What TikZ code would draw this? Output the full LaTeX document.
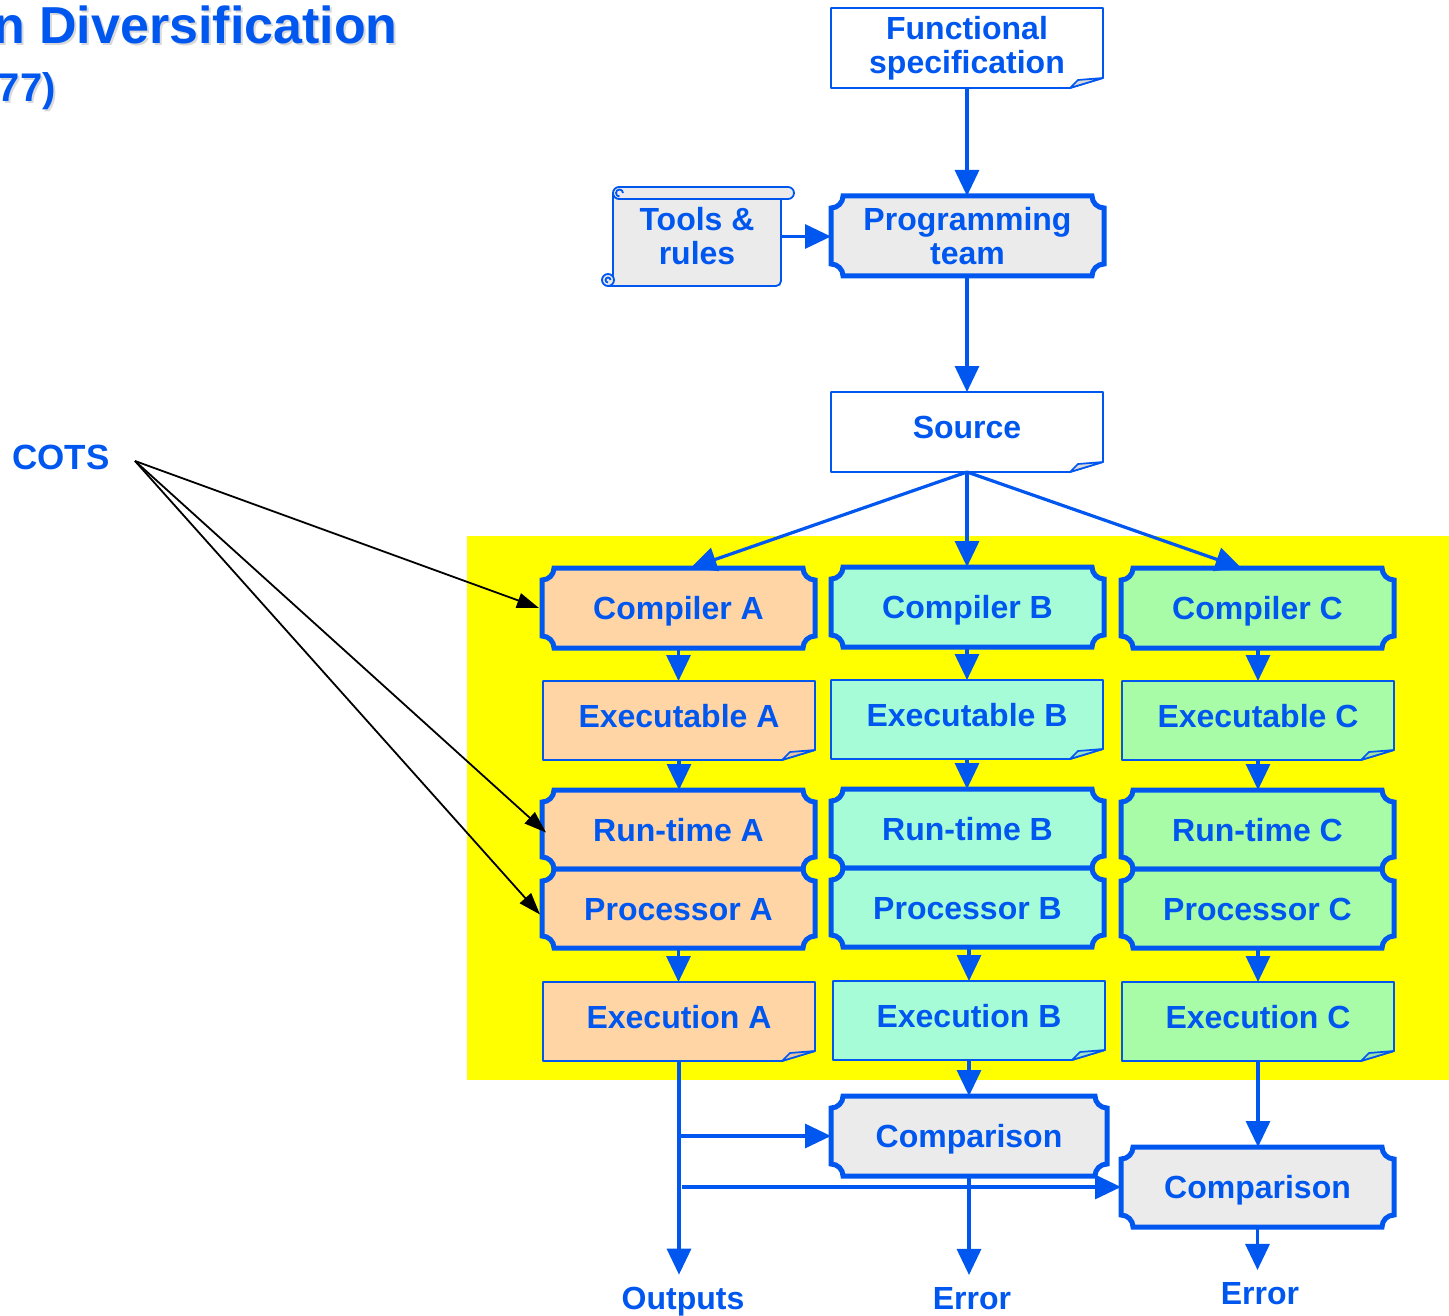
\documentclass[tikz,border=0pt]{standalone}
\usepackage{fontspec}
\setmainfont{Liberation Sans}
\usetikzlibrary{arrows.meta,calc}

\definecolor{ink}{RGB}{0,87,240}
\definecolor{peach}{RGB}{255,213,166}
\definecolor{mint}{RGB}{166,252,214}
\definecolor{leaf}{RGB}{168,252,168}
\definecolor{paper}{RGB}{235,235,235}
\definecolor{band}{RGB}{255,255,0}

\pgfdeclarelayer{back}
\pgfdeclarelayer{shapes}
\pgfsetlayers{back,shapes,main}

\newcommand\notchr{12pt}
\newcommand\boxfont{\fontsize{32}{34}\selectfont\bfseries}

% box with concave quarter-circle corners
\newcommand\procshape[2]{%
  \begin{pgfonlayer}{shapes}
  \draw[procline,fill=#2] let \p1=(#1.south west), \p2=(#1.north east) in
    ({\x1+\notchr},\y1) -- ({\x2-\notchr},\y1)
    arc[start angle=180,end angle=90,radius=\notchr] -- (\x2,{\y2-\notchr})
    arc[start angle=270,end angle=180,radius=\notchr] -- ({\x1+\notchr},\y2)
    arc[start angle=0,end angle=-90,radius=\notchr] -- (\x1,{\y1+\notchr})
    arc[start angle=90,end angle=0,radius=\notchr] -- cycle;
  \end{pgfonlayer}}

% document sheet with a curled lower right corner
\newcommand\docshape[3]{%
  \begin{pgfonlayer}{shapes}
  \draw[docline,fill=#2] let \p1=(#1.south west), \p2=(#1.north east) in
    (\x1,\y2) -- (\x2,\y2) -- (\x2,{\y1+10pt}) -- ({\x2-33pt},\y1) -- (\x1,\y1) -- cycle;
  \draw[docline,fill=#3] let \p1=(#1.south west), \p2=(#1.north east) in
    (\x2,{\y1+10pt}) -- ({\x2-33pt},\y1) -- ({\x2-25pt},{\y1+8pt}) -- cycle;
  \end{pgfonlayer}}

% paper scroll
\newcommand\scrollshape[2]{%
  \begin{pgfonlayer}{shapes}
  \fill[#2] (#1.south west) rectangle ($(#1.north east)+(0,-6)$);
  \draw[scrollline] ($(#1.north west)+(0,-6)$) -- ($(#1.south west)+(0,6)$);
  \draw[scrollline,rounded corners=5pt] ($(#1.south west)+(-5,0)$) -- (#1.south east) -- ($(#1.north east)+(0,-12)$);
  \draw[scrollline,fill=#2] ($(#1.south west)+(-5,6)$) circle[radius=6pt];
  \draw[scrollline] ($(#1.south west)+(-2.5,6)$) arc[start angle=0,end angle=270,radius=2.5pt];
  \draw[scrollline,fill=#2,rounded corners=6pt] (#1.north west) rectangle ($(#1.north east)+(13,-12)$);
  \draw[scrollline] ($(#1.north west)+(10,-6)$) arc[start angle=0,end angle=270,radius=3.5pt];
  \end{pgfonlayer}}

\tikzset{
  box/.style={inner sep=0pt, outer sep=0pt, text=ink, font=\boxfont, align=center},
  procbox/.style={box, minimum width=273pt, minimum height=80pt},
  docbox/.style={box, minimum width=272pt, minimum height=80pt},
  oneproc/.style={text height=23pt, text depth=0pt},
  onedoc/.style={text height=23pt, text depth=10pt},
  procline/.style={draw=ink, line width=5pt},
  docline/.style={draw=ink, line width=1.7pt, line join=round},
  scrollline/.style={draw=ink, line width=1.8pt},
  conn/.style={draw=ink, line width=3.2pt, -{Triangle[length=26pt,width=24pt]}},
  pointer/.style={draw=black, line width=1.8pt, -{Triangle[length=22pt,width=15pt]}},
  endlabel/.style={text=ink, font=\boxfont, inner sep=0pt, outer ysep=12pt, anchor=base},
  titletext/.style={inner sep=0pt, anchor=base east},
}

\begin{document}
\begin{tikzpicture}[x=1pt,y=1pt]
\useasboundingbox (0,0) rectangle (1449,-1316);

% heading
\node[titletext, text=black!15, font=\fontsize{52}{56}\selectfont\bfseries] (titleshade) at (400,-46) {n Diversification};
\node[titletext, text=ink, font=\fontsize{52}{56}\selectfont\bfseries] (title) at (398,-44) {n Diversification};
\node[titletext, text=black!15, font=\fontsize{40}{44}\selectfont\bfseries] (yearshade) at (58,-104) {77)};
\node[titletext, text=ink, font=\fontsize{40}{44}\selectfont\bfseries] (year) at (56,-102) {77)};

% yellow band behind the three channels
\begin{pgfonlayer}{back}
  \fill[band] (467,-536) rectangle (1449,-1080);
\end{pgfonlayer}

% design chain
\node[docbox] (spec) at (967,-48) {Functional\\specification};
\node[procbox] (team) at (967.5,-236) {Programming\\team};
\node[box, minimum width=168pt, minimum height=99pt] (tools) at (697,-236.5) {Tools \&\\rules};
\node[docbox, onedoc] (src) at (967,-432) {Source};

% channel A
\node[procbox, oneproc] (compA) at (678.5,-608) {Compiler A};
\node[docbox, onedoc, minimum height=79pt] (exeA) at (679,-720.5) {Executable A};
\node[procbox, oneproc, minimum height=79pt] (rtA) at (678.5,-829.5) {Run-time A};
\node[procbox, oneproc, minimum height=79pt] (prA) at (678.5,-908.5) {Processor A};
\node[docbox, onedoc, minimum height=79pt] (exnA) at (679,-1021.5) {Execution A};

% channel B
\node[procbox, oneproc] (compB) at (967.5,-607) {Compiler B};
\node[docbox, onedoc, minimum height=79pt] (exeB) at (967,-719.5) {Executable B};
\node[procbox, oneproc, minimum height=79pt] (rtB) at (967.5,-828.5) {Run-time B};
\node[procbox, oneproc, minimum height=79pt] (prB) at (967.5,-907.5) {Processor B};
\node[docbox, onedoc, minimum height=79pt] (exnB) at (969,-1020.5) {Execution B};

% channel C
\node[procbox, oneproc] (compC) at (1257.5,-608) {Compiler C};
\node[docbox, onedoc, minimum height=79pt] (exeC) at (1258,-720.5) {Executable C};
\node[procbox, oneproc, minimum height=79pt] (rtC) at (1257.5,-829.5) {Run-time C};
\node[procbox, oneproc, minimum height=79pt] (prC) at (1257.5,-908.5) {Processor C};
\node[docbox, onedoc, minimum height=79pt] (exnC) at (1258,-1021.5) {Execution C};

% comparators and results
\node[procbox, oneproc, minimum width=276pt] (cmp1) at (969,-1136) {Comparison};
\node[procbox, oneproc] (cmp2) at (1257.5,-1187) {Comparison};
\node[endlabel] (outs) at (683,-1309) {Outputs};
\node[endlabel] (err1) at (972,-1309) {Error};
\node[endlabel] (err2) at (1260,-1304) {Error};

% off-the-shelf components
\node[text=ink, font=\fontsize{35}{37}\selectfont\bfseries, inner sep=0pt] (cots) at (61,-457) {COTS};
\coordinate (cotsTip) at (135,-461);

% outlines
\docshape{spec}{white}{black!15}
\procshape{team}{paper}
\scrollshape{tools}{paper}
\docshape{src}{white}{black!15}
\procshape{compA}{peach}
\docshape{exeA}{peach}{peach!80!gray}
\procshape{rtA}{peach}
\procshape{prA}{peach}
\docshape{exnA}{peach}{peach!80!gray}
\procshape{compB}{mint}
\docshape{exeB}{mint}{mint!80!gray}
\procshape{rtB}{mint}
\procshape{prB}{mint}
\docshape{exnB}{mint}{mint!80!gray}
\procshape{compC}{leaf}
\docshape{exeC}{leaf}{leaf!80!gray}
\procshape{rtC}{leaf}
\procshape{prC}{leaf}
\docshape{exnC}{leaf}{leaf!80!gray}
\procshape{cmp1}{paper}
\procshape{cmp2}{paper}

% connectors
\draw[conn] (spec.south) -- (team.north -| spec.south);
\draw[conn] (tools.east) -- (tools.east -| team.west);
\draw[conn] (team.south -| src.north) -- (src.north);
\draw[conn] (src.south) -- ($(compA.north)+(12,0)$);
\draw[conn] (src.south) -- (src.south |- compB.north);
\draw[conn] (src.south) -- ($(compC.north)+(-16,0)$);

\draw[conn] (compA.south) -- (compA.south |- exeA.north);
\draw[conn] (exeA.south) -- (exeA.south |- rtA.north);
\draw[conn] (prA.south) -- (prA.south |- exnA.north);
\draw[conn] (compB.south -| exeB.north) -- (exeB.north);
\draw[conn] (exeB.south) -- (exeB.south |- rtB.north);
\draw[conn] (prB.south -| exnB.north) -- (exnB.north);
\draw[conn] (compC.south -| exeC.north) -- (exeC.north);
\draw[conn] (exeC.south) -- (exeC.south |- rtC.north);
\draw[conn] (prC.south -| exnC.north) -- (exnC.north);

\draw[conn] (exnA.south) -- (exnA.south |- outs.north);
\draw[conn] (exnA.south |- cmp1.west) -- (cmp1.west);
\draw[conn] ($(exnA.south |- cmp2.west)+(3,0)$) -- (cmp2.west);
\draw[conn] (exnB.south) -- (exnB.south |- cmp1.north);
\draw[conn] (exnC.south) -- (exnC.south |- cmp2.north);
\draw[conn] (cmp1.south) -- (cmp1.south |- err1.north);
\draw[conn] (cmp2.south) -- (cmp2.south |- err2.north);

\draw[pointer] (cotsTip) -- ($(compA.west)+(-3,0)$);
\draw[pointer] (cotsTip) -- ($(rtA.west)+(4,-3)$);
\draw[pointer] (cotsTip) -- ($(prA.west)+(-2,-6)$);
\end{tikzpicture}
\end{document}
